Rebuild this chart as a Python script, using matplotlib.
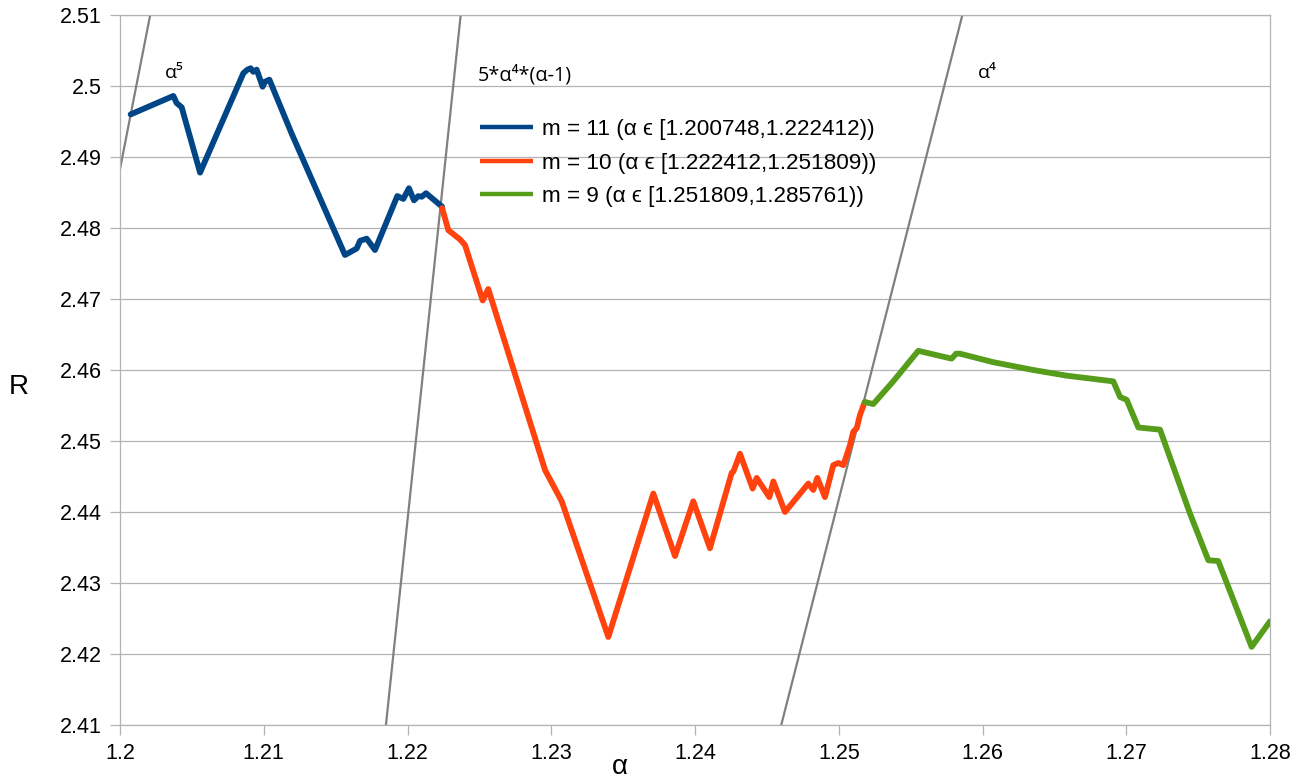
import matplotlib
matplotlib.use("Agg")
import matplotlib.pyplot as plt

# R(alpha) curves
m11_x = [1.20074, 1.20371, 1.20394, 1.20429, 1.20557, 1.20858, 1.20886, 1.20909,
         1.20927, 1.20951, 1.20992, 1.21009, 1.21039, 1.21194, 1.21565, 1.21646,
         1.21670, 1.21716, 1.21774, 1.21929, 1.21971, 1.22010, 1.22045, 1.22075,
         1.22099, 1.22129, 1.22241]
m11_y = [2.4960, 2.4986, 2.4976, 2.4970, 2.4878, 2.5018, 2.5023, 2.5025,
         2.5020, 2.5023, 2.4999, 2.5006, 2.5009, 2.4933, 2.4762, 2.4771,
         2.4782, 2.4785, 2.4769, 2.4845, 2.4841, 2.4856, 2.4839, 2.4845,
         2.4844, 2.4849, 2.4830]

m10_x = [1.22241, 1.22284, 1.22365, 1.22400, 1.22523, 1.22562, 1.22957, 1.23073,
         1.23397, 1.23710, 1.23861, 1.23988, 1.24104, 1.24255, 1.24267, 1.24313,
         1.24401, 1.24429, 1.24517, 1.24545, 1.24626, 1.24788, 1.24823, 1.24851,
         1.24904, 1.24962, 1.24997, 1.25032, 1.25078, 1.25101, 1.25125, 1.25148,
         1.25181]
m10_y = [2.4828, 2.4797, 2.4784, 2.4776, 2.4698, 2.4714, 2.4459, 2.4415,
         2.4224, 2.4426, 2.4338, 2.4415, 2.4349, 2.4455, 2.4457, 2.4482,
         2.4433, 2.4448, 2.4421, 2.4443, 2.4400, 2.4440, 2.4431, 2.4448,
         2.4421, 2.4466, 2.4469, 2.4466, 2.4494, 2.4513, 2.4518, 2.4537,
         2.4555]

m9_x = [1.25181, 1.25240, 1.25379, 1.25553, 1.25785, 1.25816, 1.25843, 1.26075,
        1.26353, 1.26586, 1.26910, 1.26957, 1.27003, 1.27084, 1.27235, 1.27443,
        1.27571, 1.27640, 1.27872, 1.28000]
m9_y = [2.4555, 2.4552, 2.4584, 2.4627, 2.4616, 2.4623, 2.4623, 2.4611,
        2.4600, 2.4592, 2.4584, 2.4562, 2.4558, 2.4519, 2.4516, 2.4398,
        2.4332, 2.4331, 2.4210, 2.4246]

# reference curves (nearly straight in this window)
a5_x = [1.2000, 1.2021]
a5_y = [2.4883, 2.5100]
a4m_x = [1.2185, 1.2237]
a4m_y = [2.4100, 2.5100]
a4_x = [1.2460, 1.2586]
a4_y = [2.4100, 2.5100]

labels = ["m = 11 (α ϵ [1.200748,1.222412))",
          "m = 10 (α ϵ [1.222412,1.251809))",
          "m = 9 (α ϵ [1.251809,1.285761))"]
colors = ["#004586", "#ff420e", "#579d1c"]

xticks = [1.2, 1.21, 1.22, 1.23, 1.24, 1.25, 1.26, 1.27, 1.28]
xticklabels = ["1.2", "1.21", "1.22", "1.23", "1.24", "1.25", "1.26", "1.27", "1.28"]
yticks = [2.41, 2.42, 2.43, 2.44, 2.45, 2.46, 2.47, 2.48, 2.49, 2.5, 2.51]
yticklabels = ["2.41", "2.42", "2.43", "2.44", "2.45", "2.46", "2.47", "2.48", "2.49", "2.5", "2.51"]

plt.rcParams['font.family'] = ['Liberation Sans', 'DejaVu Sans']

fig = plt.figure(figsize=(13.01, 7.8), dpi=100)
ax = fig.add_axes([120 / 1301, 55 / 780, 1150 / 1301, 710 / 780])

grid = "#b3b3b3"
for y in yticks:
    ax.axhline(y, color=grid, lw=0.9, zorder=0)

gray = "#808080"
for xs, ys in [(a5_x, a5_y), (a4m_x, a4m_y), (a4_x, a4_y)]:
    ax.plot(xs, ys, color=gray, lw=1.6, zorder=2)

lines = []
for xs, ys, c, lab in zip([m11_x, m10_x, m9_x], [m11_y, m10_y, m9_y], colors, labels):
    ln, = ax.plot(xs, ys, color=c, lw=4.2, label=lab, zorder=3,
                  solid_joinstyle='round', solid_capstyle='round')
    lines.append(ln)

ax.set_xlim(1.2, 1.28)
ax.set_ylim(2.41, 2.51)
ax.set_xticks(xticks)
ax.set_xticklabels(xticklabels)
ax.set_yticks(yticks)
ax.set_yticklabels(yticklabels)
ax.tick_params(axis='both', length=7, width=0.9, color=grid, pad=6,
               labelsize=15.5, labelcolor="black")
for s in ax.spines.values():
    s.set_color(grid)
    s.set_linewidth(0.9)

leg = ax.legend(handles=lines, loc='upper left', bbox_to_anchor=(0.313, 0.853),
                frameon=False, fontsize=16.2, handlelength=2.35, handletextpad=0.4,
                labelspacing=0.55, borderpad=0, borderaxespad=0)
for l in leg.get_lines():
    l.set_linewidth(3.2)
    l.set_solid_capstyle('butt')

fam = ['Open Sans', 'DejaVu Sans']
ax.text(1.20315, 2.5019, "α⁵", fontsize=14, family=fam, va='center', ha='left')
ax.text(1.22490, 2.5015, "5*α⁴*(α-1)", fontsize=14.3, family=fam, va='center', ha='left')
ax.text(1.25969, 2.5019, "α⁴", fontsize=14, family=fam, va='center', ha='left')

fig.text(19 / 1301, (780 - 387) / 780, "R", fontsize=20, ha='center', va='center')
fig.text(620 / 1301, (780 - 767) / 780, "α", fontsize=20, ha='center', va='center')

fig.savefig("out.png", dpi=100)
